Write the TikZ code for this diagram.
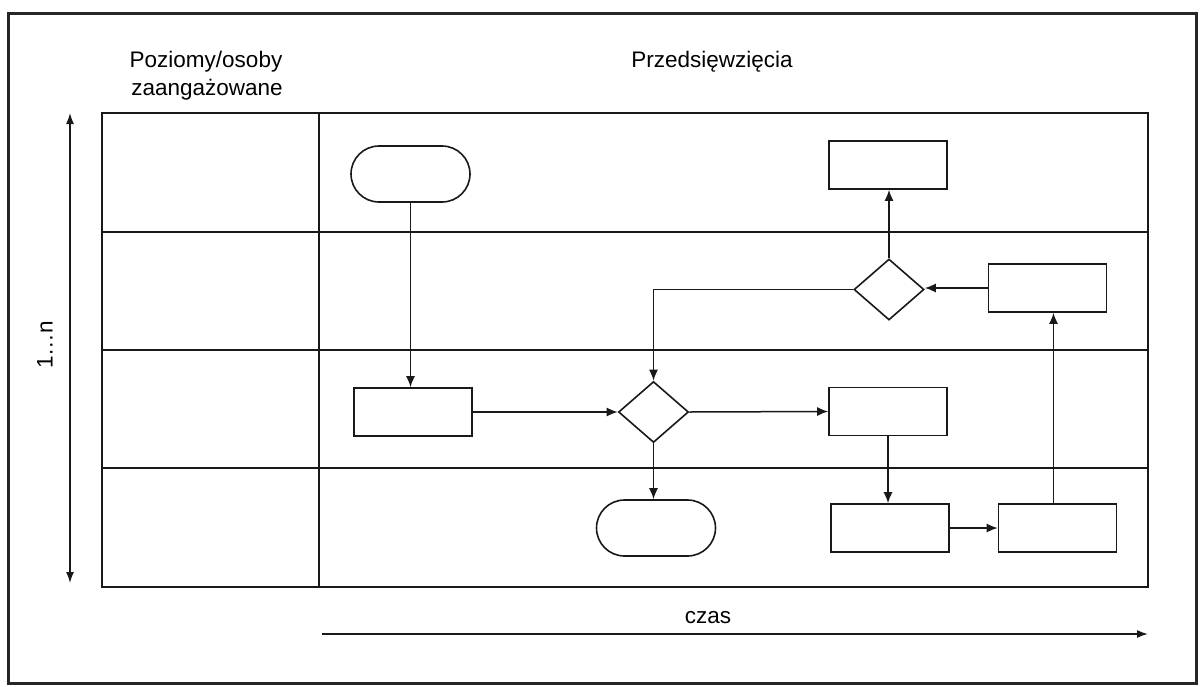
\documentclass[tikz,border=0pt]{standalone}
\usepackage{fontspec}
\setmainfont{Liberation Sans}
\usetikzlibrary{shapes.geometric,shapes.misc,arrows.meta,calc}

\begin{document}
\begin{tikzpicture}[x=1pt,y=-1pt,
  every node/.style={font=\fontsize{22.5}{28}\selectfont},
  frameline/.style={draw=black!85,line width=3pt},
  laneline/.style={draw=black!90,line width=1.8pt},
  box/.style={draw=black!90,line width=1.6pt,rectangle,minimum width=118pt,minimum height=48pt,inner sep=0pt},
  term/.style={draw=black!90,line width=1.6pt,rounded rectangle,minimum width=119pt,minimum height=56pt,inner sep=0pt},
  decision/.style={draw=black!90,line width=1.6pt,diamond,minimum width=70pt,minimum height=61pt,inner sep=0pt},
  flow/.style={draw=black!90,line width=1.5pt,-{Latex[length=11pt,width=9pt]}},
  axis/.style={draw=black!90,line width=1.5pt,{Latex[length=11pt,width=8pt]}-{Latex[length=11pt,width=8pt]}},
  timeaxis/.style={draw=black!90,line width=1.6pt,-{Latex[length=11pt,width=8pt]}}
]
\useasboundingbox (0,0) rectangle (1200,686);

% outer frame
\draw[frameline] (8,13) rectangle (1196,683);

% swimlane grid
\draw[laneline] (102,113) rectangle (1148,587);
\draw[laneline] (102,232) -- (1148,232);
\draw[laneline,line width=2.2pt] (102,350) -- (1148,350);
\draw[laneline] (102,468) -- (1148,468);
\draw[laneline] (319,113) -- (319,587);

% headings
\node[anchor=base] (hdrA) at (206,67) {Poziomy/osoby};
\node[anchor=base] (hdrB) at (207,95) {zaangażowane};
\node[anchor=base] (hdrC) at (712,67) {Przedsięwzięcia};

% vertical axis: levels 1...n
\coordinate (ytop) at (70,113);
\coordinate (ybot) at (70,583);
\draw[axis] (ytop) -- (ybot);
\node[rotate=90] (ylab) at (45,345) {1…n};

% horizontal axis: time
\coordinate (t0) at (322,634);
\coordinate (t1) at (1148,634);
\draw[timeaxis] (t0) -- (t1);
\node[anchor=base] (tlab) at (708,623) {czas};

% flow elements
\node[term] (start) at (410.5,174) {};
\node[box] (a) at (413,412) {};
\node[decision] (d1) at (653.5,412) {};
\node[term] (stop) at (656,528) {};
\node[box] (b) at (888,411.5) {};
\node[box] (c) at (890,528) {};
\node[box] (dd) at (1057.5,528) {};
\node[box] (e) at (1047.5,288) {};
\node[decision] (d2) at (889,289.5) {};
\node[box] (f) at (888,165) {};

% connectors
\draw[flow] (start.south) -- (start.south |- a.north);
\draw[flow] (a.east) -- (d1.west);
\draw[flow] (d1.east) -- (b.west);
\draw[flow] (d1.south) -- (d1.south |- stop.north);
\draw[flow] (b.south) -- (b.south |- c.north);
\draw[flow] (c.east) -- (c.east -| dd.west);
\draw[flow] ([xshift=-4pt]dd.north) -- ([xshift=-4pt]dd.north |- e.south);
\draw[flow] (e.west) -- (e.west -| d2.east);
\draw[flow] (d2.north) -- (d2.north |- f.south);
\draw[flow] (d2.west) -| (d1.north);
\end{tikzpicture}
\end{document}
